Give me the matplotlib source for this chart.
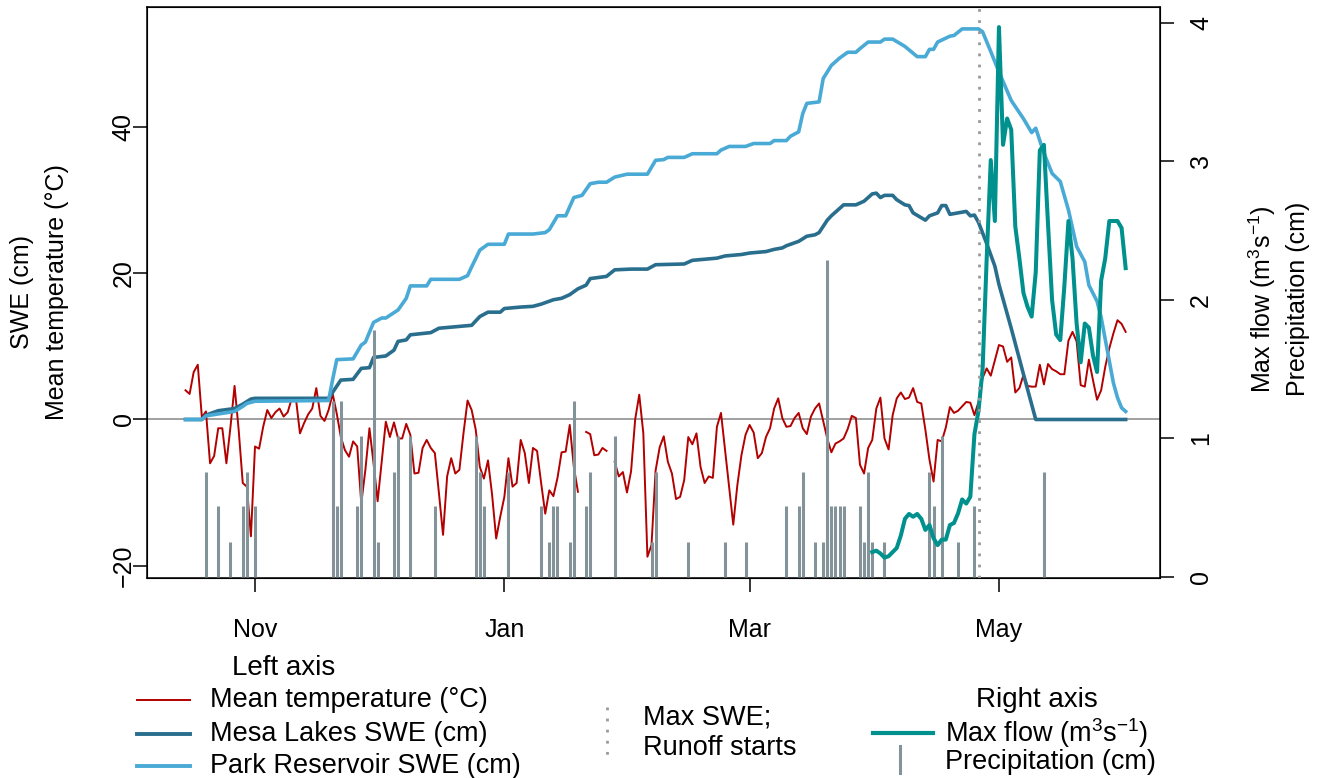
"""Snow water equivalent, temperature, flow and precipitation, 2023-24 season."""
import matplotlib
matplotlib.use("Agg")
import matplotlib.pyplot as plt
import matplotlib.dates as mdates
import numpy as np
import pandas as pd

plt.rcParams["font.family"] = ["Liberation Sans", "DejaVu Sans"]
plt.rcParams["mathtext.fontset"] = "custom"
plt.rcParams["mathtext.rm"] = "Liberation Sans"
plt.rcParams["mathtext.it"] = "Liberation Sans:italic"

# ---- data -------------------------------------------------------------
# daily mean temperature (degC), 2023-10-15 .. 2024-06-01 (nan = missing)
nan = np.nan
temp_oct = [4.0, 3.5, 6.5, 7.5, 0.3, 1.1, -6.0, -5.0, -1.2, -1.2, -6.0, -1.0,
            4.6, -1.4, -8.7, -9.2, -16.0]
temp_nov = [-3.7, -4.0, -1.0, 1.3, 0.2, 1.0, 1.5, 0.4, 1.0, 2.9,
            2.9, -1.9, -0.5, 0.7, 1.5, 4.3, 0.5, -0.2, 1.3, 3.5,
            0.8, -2.4, -4.2, -5.1, -3.0, -3.7, -11.5, -6.9, -1.2, -6.0]
temp_dec = [-11.2, -5.8, -0.3, -2.4, -0.4, -2.6, -2.6, -0.6, -2.1, -7.4,
            -7.3, -3.9, -2.8, -3.9, -4.6, -10.1, -15.8, -7.8, -5.3, -7.4,
            -6.9, -1.9, 2.6, 1.3, -1.4, -6.5, -8.1, -5.6, -10.3, -16.3,
            -13.3]
temp_jan = [-10.6, -5.3, -9.2, -8.7, -2.8, -4.6, -8.7, -3.9, -4.3, -8.7,
            -12.9, -9.7, -10.5, -8.0, -4.5, -4.4, -0.75, -6.5, -9.9, nan,
            -1.7, -2.0, -4.9, -4.8, -3.9, -4.3, nan, -5.8, -7.8, -7.2,
            -10.0]
temp_feb = [-7.1, 0.0, 3.4, -1.9, -18.8, -17.2, -7.0, -3.8, -2.3, -5.8,
            -7.4, -10.9, -10.6, -8.3, -2.4, -3.4, -1.9, -6.5, -8.7, -7.8,
            -8.0, -1.0, 0.9, -4.2, -9.2, -14.4, -9.0, -4.9, -2.1]
temp_mar = [-0.75, -1.8, -5.3, -4.6, -2.4, -1.2, 1.5, 2.9, 0.2, -1.0,
            -0.9, 0.2, 0.9, -1.2, -2.0, 0.4, 1.5, 2.2, -0.2, -2.6,
            -4.5, -3.3, -3.0, -2.6, -1.3, 0.5, 0.2, -6.2, -7.4, -3.9,
            -2.8]
temp_apr = [1.5, 3.0, -2.6, -4.1, 0.6, 2.9, 3.7, 2.8, 3.0, 4.3,
            2.4, 2.2, -1.4, -5.5, -8.5, -2.8, -3.0, -1.1, 1.7, 0.9,
            1.2, 1.8, 2.4, 2.3, 0.6, 2.4, 5.7, 7.0, 6.0, 8.1]
temp_may = [10.2, 10.0, 7.9, 8.5, 3.7, 4.3, 6.1, 4.6, 4.5, 4.5,
            7.5, 4.8, 7.6, 6.9, 6.6, 6.2, 6.2, 10.8, 12.0, 10.7,
            4.7, 4.5, 8.2, 5.4, 2.7, 4.0, 7.2, 9.75, 11.8, 13.6,
            13.1]
temp_jun = [12.0]

# SWE (cm): vertices of the daily series, day = days after 2023-11-01
mesa_day = [-17, -13, -12, -9, -5, -3, -1, 0, 18, 21, 24, 26, 28, 29, 32, 34,
            35, 37, 38, 43, 45, 49, 53, 55, 57, 60, 61, 65, 68, 70, 73, 75,
            77, 79, 81, 82, 86, 88, 92, 96, 98, 105, 107, 113, 115, 119, 121,
            125, 127, 129, 130, 133, 135, 137, 138, 140, 141, 144, 147, 149,
            151, 152, 153, 154, 156, 157, 159, 160, 161, 164, 165, 167, 168,
            169, 170, 172, 174, 175, 176, 177, 179, 181, 182, 185, 188, 191,
            213]
mesa_swe = [0, 0, 0.6, 1.2, 1.5, 2.1, 2.8, 2.9, 2.9, 5.4, 5.5, 7.0, 7.1, 8.5,
            8.7, 9.5, 10.7, 10.9, 11.6, 11.9, 12.5, 12.7, 12.9, 14.1, 14.7,
            14.7, 15.2, 15.4, 15.5, 15.8, 16.4, 16.6, 17.1, 17.9, 18.4, 19.3,
            19.6, 20.5, 20.6, 20.6, 21.2, 21.3, 21.8, 22.1, 22.4, 22.6, 22.8,
            23.0, 23.3, 23.5, 23.8, 24.4, 25.1, 25.3, 25.6, 27.3, 27.9, 29.4,
            29.4, 29.9, 30.9, 31.0, 30.4, 30.7, 30.7, 30.1, 29.4, 29.3, 28.3,
            27.3, 27.9, 28.3, 29.3, 29.3, 28.1, 28.3, 28.5, 27.9, 28.0, 27.0,
            24.1, 21.0, 18.5, 12.5, 6.2, 0, 0]

park_day = [-17, -13, -12, -5, -3, -2, 0, 18, 19, 20, 24, 26, 27, 29, 31, 32,
            35, 37, 38, 42, 43, 50, 52, 53, 55, 57, 61, 62, 68, 71, 72, 74, 76,
            78, 80, 82, 84, 86, 88, 91, 96, 98, 100, 101, 105, 107, 113, 114,
            116, 120, 122, 126, 127, 130, 131, 133, 134, 135, 138, 139, 141,
            143, 145, 147, 148, 150, 153, 154, 156, 159, 162, 164, 165, 166,
            167, 170, 171, 173, 177, 178, 180, 182, 185, 188, 190, 191, 193,
            195, 197, 199, 201, 203, 204, 206, 207, 208, 209, 210, 211, 212,
            213]
park_swe = [0, 0, 0.5, 1.1, 1.8, 2.2, 2.5, 2.6, 5.5, 8.2, 8.3, 10.2, 10.6,
            13.3, 13.9, 13.9, 15.0, 16.6, 18.3, 18.3, 19.2, 19.2, 19.7, 20.9,
            23.2, 24.0, 24.0, 25.4, 25.4, 25.6, 26.0, 27.9, 27.9, 30.4, 30.7,
            32.3, 32.5, 32.5, 33.2, 33.6, 33.6, 35.5, 35.6, 35.9, 35.9, 36.4,
            36.4, 36.9, 37.4, 37.4, 37.8, 37.8, 38.2, 38.2, 38.8, 39.4, 41.9,
            43.3, 43.5, 46.7, 48.5, 49.5, 50.3, 50.3, 50.8, 51.7, 51.7, 52.1,
            52.1, 51.1, 49.7, 49.7, 50.7, 50.7, 51.7, 52.5, 52.6, 53.5, 53.5,
            53.1, 50.4, 47.6, 43.7, 41.2, 39.3, 39.9, 36.5, 33.7, 32.6, 28.7,
            23.7, 21.6, 18.4, 16.2, 14.0, 11.0, 8.0, 5.0, 3.0, 1.6, 1.1]

# daily max flow (m3/s), 2024-03-31 .. 2024-06-01
flow = [0.18, 0.19, 0.17, 0.14, 0.15, 0.18, 0.21, 0.30, 0.42, 0.455,
        0.435, 0.455, 0.42, 0.34, 0.375, 0.28, 0.23, 0.27, 0.27, 0.375,
        0.39, 0.46, 0.56, 0.53, 0.58, 1.03, 1.2, 1.5, 2.3, 3.01,
        2.57, 3.97, 3.12, 3.31, 3.23, 2.53, 2.3, 2.05, 1.95, 1.88,
        2.2, 3.08, 3.12, 2.55, 2.0, 1.75, 1.71, 2.1, 2.57, 2.3,
        1.83, 1.55, 1.83, 1.80, 1.6, 1.48, 2.14, 2.3, 2.57, 2.57,
        2.57, 2.52, 2.23]

# daily precipitation (cm)
precip_dates = ["2023-10-20", "2023-10-23", "2023-10-26", "2023-10-29",
                "2023-10-30", "2023-11-01", "2023-11-20", "2023-11-21",
                "2023-11-22", "2023-11-26", "2023-11-27", "2023-11-30",
                "2023-12-01", "2023-12-05", "2023-12-06", "2023-12-09",
                "2023-12-15", "2023-12-25", "2023-12-26", "2023-12-27",
                "2024-01-02", "2024-01-10", "2024-01-12", "2024-01-13",
                "2024-01-14", "2024-01-17", "2024-01-18", "2024-01-21",
                "2024-01-22", "2024-01-28", "2024-02-06", "2024-02-07",
                "2024-02-15", "2024-02-24", "2024-02-29", "2024-03-10",
                "2024-03-13", "2024-03-14", "2024-03-17", "2024-03-19",
                "2024-03-20", "2024-03-21", "2024-03-22", "2024-03-23",
                "2024-03-24", "2024-03-28", "2024-03-29", "2024-03-30",
                "2024-03-31", "2024-04-03", "2024-04-14", "2024-04-15",
                "2024-04-17", "2024-04-21", "2024-04-25", "2024-05-12"]
precip_cm = [0.76, 0.51, 0.25, 0.51, 0.76, 0.51, 1.27, 0.51, 1.27, 0.51,
             1.02, 1.78, 0.25, 0.76, 1.02, 1.02, 0.51, 1.02, 0.76, 0.51,
             0.76, 0.51, 0.25, 0.51, 0.51, 0.25, 1.27, 0.51, 0.76, 1.02,
             0.25, 0.76, 0.25, 0.25, 0.25, 0.51, 0.51, 0.76, 0.25, 0.25,
             2.29, 0.51, 0.51, 0.51, 0.51, 0.51, 0.25, 0.76, 0.25, 0.25,
             0.76, 0.51, 1.02, 0.25, 0.51, 0.76]

max_swe_date = "2024-04-26"
month_ticks = ["2023-11-01", "2024-01-01", "2024-03-01", "2024-05-01"]

# ---- styles -----------------------------------------------------------
C_TEMP = "#b30000"
C_MESA = "#2a6e8e"
C_PARK = "#4aaad6"
C_FLOW = "#00918e"
C_PREC = "#84939a"
C_GREY = "#a0a0a0"

W, H = 1325, 778
fig = plt.figure(figsize=(W / 100, H / 100), dpi=100)
ax = fig.add_axes([147.3 / W, 1 - 577.7 / H, (1160 - 147.3) / W, (577.7 - 7) / H])

temp = temp_oct + temp_nov + temp_dec + temp_jan + temp_feb + temp_mar + \
    temp_apr + temp_may + temp_jun
days = pd.date_range("2023-10-15", periods=len(temp), freq="D")
nov1 = pd.Timestamp("2023-11-01")
mesa_x = nov1 + pd.to_timedelta(mesa_day, unit="D")
park_x = nov1 + pd.to_timedelta(park_day, unit="D")
flow_x = pd.date_range("2024-03-31", periods=len(flow), freq="D")
prec_x = pd.to_datetime(precip_dates)

ax.axhline(0, color=C_GREY, lw=1.4, zorder=1)
ax.plot(days, temp, color=C_TEMP, lw=1.4, zorder=2)
ax.plot(mesa_x, mesa_swe, color=C_MESA, lw=2.6, zorder=3)
ax.plot(park_x, park_swe, color=C_PARK, lw=2.6, zorder=3)

ax.set_xlim(nov1 + pd.Timedelta(days=-26.35), nov1 + pd.Timedelta(days=221.4))
ax.set_ylim(-21.67, 56.5)
ax.set_yticks([-20, 0, 20, 40])
ax.set_xticks(pd.to_datetime(month_ticks))
ax.xaxis.set_major_formatter(mdates.DateFormatter("%b"))
ax.tick_params(axis="both", direction="out", length=10, width=1.1,
               labelsize=18, color="black")
ax.tick_params(axis="x", pad=19)
ax.tick_params(axis="y", pad=-1.7)
for lab in ax.get_yticklabels():
    lab.set_rotation(90)
    lab.set_va("center")
for s in ax.spines.values():
    s.set_linewidth(1.1)

ax2 = ax.twinx()
ax2.vlines(prec_x, 0, precip_cm, color=C_PREC, lw=2.2, zorder=2)
ax2.plot(flow_x, flow, color=C_FLOW, lw=2.9, zorder=3)
ax2.axvline(pd.Timestamp(max_swe_date), color="#999999", lw=2,
            ls=(0, (1, 3)), zorder=4)
ax2.set_ylim(-0.005, 4.115)
ax2.set_yticks([0, 1, 2, 3, 4])
ax2.tick_params(axis="y", direction="out", length=10, width=1.1,
                labelsize=18, pad=11)
for lab in ax2.get_yticklabels():
    lab.set_rotation(90)
    lab.set_va("center")

# axis titles
fig.text(22 / W, 1 - 292 / H, "SWE (cm)", rotation=90, ha="center",
         va="center", fontsize=18)
fig.text(57 / W, 1 - 292 / H, "Mean temperature (°C)", rotation=90,
         ha="center", va="center", fontsize=18)
fig.text(1262 / W, 1 - 299 / H, r"Max flow (m$^3$s$^{-1}$)", rotation=90,
         ha="center", va="center", fontsize=18)
fig.text(1298 / W, 1 - 299 / H, "Precipitation (cm)", rotation=90,
         ha="center", va="center", fontsize=18)

# ---- legend, laid out in pixel coordinates ------------------------------
leg = fig.add_axes([0, 0, 1, 1], facecolor="none")
leg.set_xlim(0, W)
leg.set_ylim(H, 0)
leg.axis("off")
LFS = 19.5
leg.text(284, 668, "Left axis", ha="center", va="center", fontsize=20)
for yy, col, lw, lab in [(700, C_TEMP, 1.4, "Mean temperature (°C)"),
                         (734, C_MESA, 2.8, "Mesa Lakes SWE (cm)"),
                         (766, C_PARK, 2.8, "Park Reservoir SWE (cm)")]:
    leg.plot([137, 190], [yy, yy], color=col, lw=lw)
    leg.text(210, yy, lab, ha="left", va="center", fontsize=LFS)
leg.plot([607, 607], [707, 758], color="#999999", lw=2, ls=(0, (1, 3)))
leg.text(643, 718, "Max SWE;", ha="left", va="center", fontsize=LFS)
leg.text(643, 748, "Runoff starts", ha="left", va="center", fontsize=LFS)
leg.text(1037, 700, "Right axis", ha="center", va="center", fontsize=20)
leg.plot([873, 933], [733, 733], color=C_FLOW, lw=3)
leg.plot([900, 900], [746, 773], color=C_PREC, lw=2.2)
leg.text(945, 733, r"Max flow (m$^3$s$^{-1}$)", ha="left", va="center",
         fontsize=LFS)
leg.text(945, 762, "Precipitation (cm)", ha="left", va="center", fontsize=LFS)

fig.savefig("out.png", dpi=100)
